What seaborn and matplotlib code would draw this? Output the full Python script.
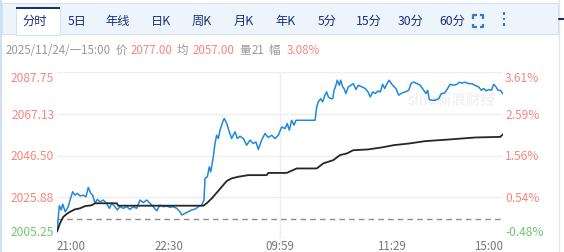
import matplotlib
matplotlib.use("Agg")
import matplotlib.pyplot as plt
from matplotlib.patches import Rectangle
import seaborn as sns
import pandas as pd

# ---------------- data ----------------
# minute index within the trading day (0 = 21:00 open, 345 = 15:00 close)
price_t = [0, 1.8, 3.3, 4.4, 6.4, 8.7, 10.1, 12.1, 13.9, 15.7, 17.8, 20.3, 22.4, 24.2, 26.1,
           27.6, 29.4, 31.2, 33.3, 35.8, 38.4, 40.5, 42.3, 44.9, 46.6, 48.7, 51.3, 53.9, 56.5,
           59.0, 61.6, 64.2, 66.8, 69.4, 71.9, 74.5, 77.1, 79.7, 82.2, 84.9, 87.4, 90.0, 92.6,
           95.1, 96.5, 99.0, 101.6, 104.2, 106.7, 109.3, 111.9, 113.7, 114.5, 116.3, 117.8,
           118.9, 120.9, 122.2, 123.5, 124.8, 126.1, 128.2, 129.4, 131.3, 133.3, 135.1, 137.7,
           139.5, 141.6, 144.1, 146.7, 149.3, 151.8, 153.9, 155.7, 158.3, 160.9, 163.4, 166.1,
           168.6, 171.2, 173.8, 176.4, 178.1, 179.7, 181.5, 183.3, 184.9, 199.6, 200.9, 202.1,
           204.0, 205.5, 207.3, 208.6, 209.9, 211.7, 213.3, 214.3, 215.8, 216.8, 218.4, 219.4,
           221.0, 222.0, 223.5, 225.3, 227.2, 229.2, 231.3, 233.1, 235.9, 238.5, 240.6, 242.3,
           244.2, 246.2, 248.3, 250.1, 251.9, 253.5, 255.3, 257.0, 258.6, 260.4, 262.2, 264.3,
           266.9, 269.4, 272.0, 274.1, 275.9, 278.5, 281.0, 283.7, 285.4, 286.7, 288.0, 290.1,
           292.6, 295.3, 297.3, 299.9, 301.7, 304.2, 306.8, 309.4, 311.2, 313.3, 315.8, 318.5,
           321.0, 323.1, 326.2, 328.2, 330.1, 331.9, 334.0, 336.0, 337.8, 339.6, 341.1, 342.9,
           345]
price = [2008.9, 2021.7, 2019.6, 2022.5, 2018.7, 2021.2, 2024.5, 2028.6, 2026.9, 2027.8,
         2026.5, 2026.9, 2026.1, 2030.7, 2027.8, 2026.9, 2022.9, 2024.8, 2023.6, 2024.5,
         2022.9, 2020.4, 2022.9, 2021.2, 2019.6, 2021.2, 2020.4, 2021.2, 2019.9, 2021.2,
         2020.4, 2024.5, 2023.2, 2024.5, 2022.9, 2021.2, 2019.2, 2022.0, 2021.2, 2021.5,
         2020.9, 2021.2, 2020.4, 2018.7, 2017.1, 2017.9, 2018.7, 2019.6, 2020.0, 2021.2,
         2022.0, 2024.5, 2035.2, 2036.0, 2040.9, 2038.4, 2045.8, 2052.4, 2056.5, 2054.9,
         2059.0, 2063.1, 2064.8, 2062.3, 2058.2, 2054.9, 2058.2, 2054.9, 2056.0, 2054.9,
         2051.6, 2054.1, 2052.4, 2053.2, 2049.5, 2054.1, 2057.4, 2055.4, 2056.5, 2054.9,
         2056.5, 2060.6, 2059.8, 2062.3, 2059.0, 2063.9, 2061.5, 2063.9, 2063.9, 2070.5,
         2073.0, 2074.6, 2073.0, 2076.3, 2077.9, 2075.4, 2074.6, 2074.6, 2078.7, 2081.2,
         2083.7, 2081.2, 2083.7, 2080.4, 2079.6, 2077.1, 2080.4, 2081.2, 2082.0, 2079.1,
         2081.2, 2080.4, 2079.6, 2077.9, 2075.4, 2077.9, 2077.1, 2078.4, 2077.9, 2081.7,
         2079.6, 2082.0, 2083.7, 2082.0, 2080.7, 2079.6, 2076.3, 2077.4, 2077.9, 2078.7,
         2082.3, 2082.8, 2082.0, 2081.2, 2078.7, 2077.1, 2078.7, 2074.1, 2073.8, 2073.8,
         2074.6, 2077.1, 2077.4, 2079.1, 2081.7, 2081.2, 2081.7, 2082.7, 2082.3, 2082.7,
         2082.0, 2082.0, 2081.2, 2080.4, 2078.7, 2079.6, 2078.4, 2079.1, 2078.7, 2081.7,
         2080.4, 2078.7, 2078.7, 2077.0]

avg_t = [0, 2.3, 4.9, 7.5, 10.1, 13.9, 17.8, 21.7, 26.8, 29.4, 46.2, 47.4, 113.2, 115.8,
         119.7, 123.5, 127.4, 131.3, 135.1, 140.2, 148.0, 162.2, 163.4, 177.7, 185.4, 200.9,
         206.0, 213.7, 218.9, 224.1, 229.2, 240.6, 251.4, 260.4, 272.0, 284.9, 303.0, 323.6,
         342.9, 345]
avg = [2008.9, 2013.0, 2016.2, 2017.6, 2018.7, 2019.9, 2020.4, 2021.5, 2021.9, 2022.9,
       2022.9, 2021.7, 2021.7, 2022.9, 2025.3, 2028.1, 2031.0, 2033.9, 2035.2, 2036.0,
       2036.8, 2036.8, 2037.9, 2037.9, 2040.1, 2040.1, 2042.6, 2044.2, 2046.7, 2047.5,
       2049.1, 2049.5, 2050.5, 2051.6, 2052.4, 2053.6, 2054.4, 2055.4, 2055.7, 2057.0]

prev_close = 2015.0
y_ticks = [2005.25, 2025.88, 2046.50, 2067.13, 2087.75]
y_labels = ["2005.25", "2025.88", "2046.50", "2067.13", "2087.75"]
pct_labels = ["-0.48%", "0.54%", "1.56%", "2.59%", "3.61%"]
x_ticks = [0, 86.25, 172.5, 258.75, 345]
x_labels = ["21:00", "22:30", "09:59", "11:29", "15:00"]
tabs = ["分时", "5日", "年线", "日K", "周K", "月K", "年K", "5分", "15分", "30分", "60分"]
info = [("2025/11/24/一15:00", "gray"), ("价", "gray"), ("2077.00", "red"), ("均", "gray"),
        ("2057.00", "red"), ("量", "gray"), ("21", "gray"), ("幅", "gray"), ("3.08%", "red")]

# ---------------- style ----------------
sns.set_theme(style="white")
FONT = ["Noto Sans CJK SC", "DejaVu Sans"]
plt.rcParams["font.family"] = FONT

RED = "#f7857d"
GREEN = "#6cc96c"
GRAY = "#999999"
NAVY = "#1b2f78"
BLUE = "#2088dc"
FS = 8.6

W, H = 564, 252
fig = plt.figure(figsize=(W / 100, H / 100), dpi=100)
fig.patch.set_facecolor("white")

# overlay in pixel coordinates for the UI chrome
ui = fig.add_axes([0, 0, 1, 1], zorder=0)
ui.set_xlim(0, W)
ui.set_ylim(H, 0)
ui.axis("off")

ui.add_patch(Rectangle((1.5, 3), 556, 30.5, facecolor="#eef4fc", edgecolor="#d4e2f4", lw=0.8))
ui.add_patch(Rectangle((16, 7), 44, 28, facecolor="white", edgecolor="#d4e2f4", lw=0.8))
ui.add_patch(Rectangle((16, 6.5), 44, 2, facecolor=NAVY, edgecolor="none"))
ui.plot([0.5, 0.5], [0, H], color="#cfe0f2", lw=1.5)
ui.plot([558.5, 558.5], [0, H], color="#dfe6ee", lw=1)
ui.plot([559, 564], [19, 19], color="#1b2f78", lw=1.5)

tab_x = [35, 77, 118, 161, 202, 244, 286, 327, 369, 411, 452]
for lbl, x in zip(tabs, tab_x):
    ui.text(x, 21.5, lbl, ha="center", va="center", fontsize=8.8, color=NAVY, family=FONT)
# full-screen icon
for (x0, y0, dx, dy) in [(473, 15, 1, 1), (483, 15, -1, 1), (473, 27, 1, -1), (483, 27, -1, -1)]:
    ui.plot([x0 + dx * 3.5, x0, x0], [y0, y0, y0 + dy * 3.5], color="#3a76d0", lw=1.6,
            solid_capstyle="butt")
for yy in [13.5, 19, 24.5]:
    ui.add_patch(Rectangle((502.5, yy - 1.2), 2.4, 2.4, facecolor="#3a76d0", edgecolor="none"))

info_x = [6, 116, 131, 177, 193, 239, 252, 268, 287]
for (txt, kind), x in zip(info, info_x):
    ui.text(x, 50.5, txt, ha="left", va="center", fontsize=8.3,
            color=(RED if kind == "red" else GRAY), family=FONT)

# faint watermark
ui.text(452, 100, "sina新浪财经", ha="center", va="center", fontsize=10.5, color="#f2f2f2",
        style="italic", family=FONT, fontweight="bold")

# ---------------- main chart ----------------
ax = fig.add_axes([57 / W, 13 / H, 446 / W, 167 / H], zorder=2)
ax.patch.set_alpha(0)
ax.set_xlim(0, 345)
ax.set_ylim(y_ticks[0], y_ticks[-1])
for yv in y_ticks:
    ax.axhline(yv, color="#eeeeee", lw=1, zorder=0)
ax.axvline(x_ticks[2], color="#eeeeee", lw=1, zorder=0)
ax.axhline(prev_close, color="#8c8c8c", lw=1, ls=(0, (4, 3)), zorder=1)

df_p = pd.DataFrame({"t": price_t, "v": price})
df_a = pd.DataFrame({"t": avg_t, "v": avg})
sns.lineplot(data=df_p, x="t", y="v", ax=ax, color=BLUE, lw=1.1, sort=False, estimator=None,
             zorder=3)
sns.lineplot(data=df_a, x="t", y="v", ax=ax, color="#262626", lw=1.3, sort=False,
             estimator=None, zorder=3)
ax.set_xlabel("")
ax.set_ylabel("")
for s in ax.spines.values():
    s.set_visible(False)

ax.set_yticks(y_ticks)
ax.set_yticklabels(y_labels)
ax.tick_params(axis="y", length=0, pad=2, labelsize=FS)
for i, lab in enumerate(ax.get_yticklabels()):
    lab.set_color(GREEN if y_ticks[i] < prev_close else RED)
    if i == 0:
        lab.set_verticalalignment("bottom")
    elif i == len(y_ticks) - 1:
        lab.set_verticalalignment("top")

ax.set_xticks(x_ticks)
ax.set_xticklabels(x_labels)
ax.tick_params(axis="x", length=0, pad=0.5, labelsize=8.3, labelcolor="#777777")
xl = ax.get_xticklabels()
xl[0].set_horizontalalignment("left")
xl[-1].set_horizontalalignment("right")

ax2 = ax.twinx()
ax2.set_ylim(ax.get_ylim())
ax2.set_yticks(y_ticks)
ax2.set_yticklabels(pct_labels)
ax2.tick_params(axis="y", length=0, pad=1.5, labelsize=FS)
for s in ax2.spines.values():
    s.set_visible(False)
ax2.grid(False)
for i, lab in enumerate(ax2.get_yticklabels()):
    lab.set_color(GREEN if y_ticks[i] < prev_close else RED)
    if i == 0:
        lab.set_verticalalignment("bottom")
    elif i == len(y_ticks) - 1:
        lab.set_verticalalignment("top")

fig.savefig("out.png", dpi=100)
